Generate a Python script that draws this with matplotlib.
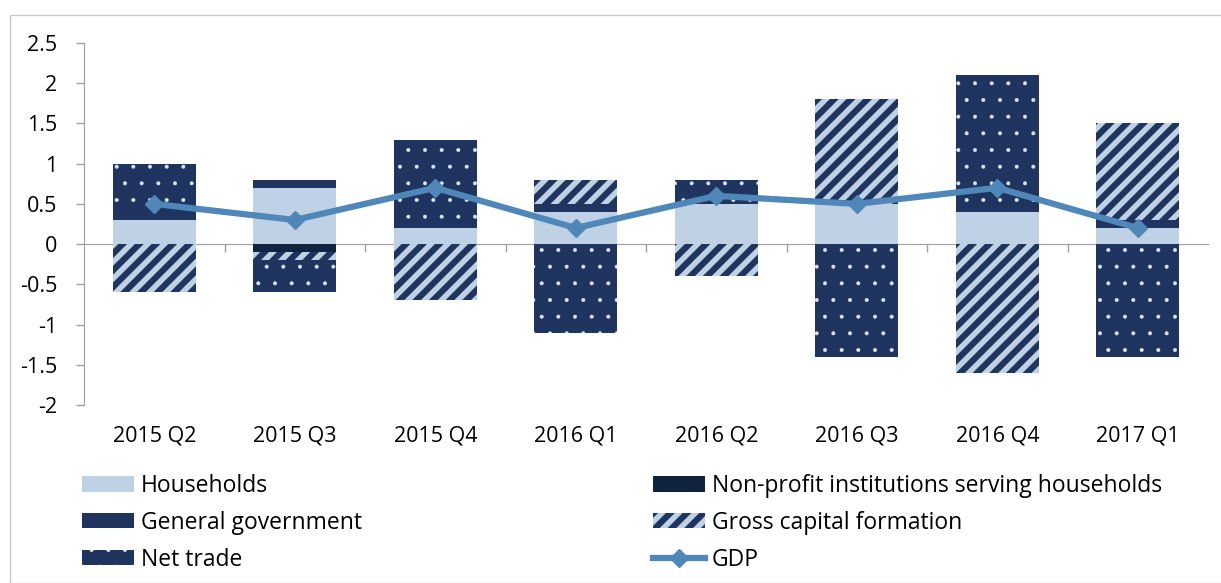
import numpy as np
import matplotlib.pyplot as plt
from matplotlib.patches import Rectangle

quarters = ['2015 Q2', '2015 Q3', '2015 Q4', '2016 Q1', '2016 Q2', '2016 Q3', '2016 Q4', '2017 Q1']
households = [0.3, 0.7, 0.2, 0.4, 0.5, 0.5, 0.4, 0.2]
npish = [0.0, -0.1, 0.0, 0.0, 0.0, 0.0, 0.0, 0.0]
general_gov = [0.2, 0.1, 0.0, 0.1, 0.0, 0.0, 0.0, 0.1]
gross_capital = [-0.6, -0.1, -0.7, 0.3, -0.4, 1.3, -1.6, 1.2]
net_trade = [0.5, -0.4, 1.1, -1.1, 0.3, -1.4, 1.7, -1.4]
gdp = [0.5, 0.3, 0.7, 0.2, 0.6, 0.5, 0.7, 0.2]

light = '#bfd2e5'
navy = '#1f3560'
dark = '#10233f'
line_col = '#4f87b9'

plt.rcParams['font.family'] = ['Open Sans', 'DejaVu Sans']
plt.rcParams['font.size'] = 15.5

fig = plt.figure(figsize=(12.21, 5.83), dpi=100)
ax = fig.add_axes([84 / 1221, 1 - 405 / 583, (1208 - 84) / 1221, (405 - 43) / 583])

x = np.arange(len(quarters))
w = 0.59
pos_base = np.zeros(len(x))
neg_base = np.zeros(len(x))


def set_hlw(patches, lw):
    for p in patches:
        if hasattr(p, 'set_hatch_linewidth'):
            p.set_hatch_linewidth(lw)
        else:
            p._hatch_linewidth = lw


def stack(vals, hatch_lw=None, **kw):
    vals = np.array(vals, dtype=float)
    bottoms = np.where(vals >= 0, pos_base, neg_base)
    bars = ax.bar(x, vals, w, bottom=bottoms, linewidth=0, **kw)
    if hatch_lw is not None:
        set_hlw(bars, hatch_lw)
    pos_base[:] += np.where(vals > 0, vals, 0)
    neg_base[:] += np.where(vals < 0, vals, 0)
    return bars


h_hh = stack(households, color=light, label='Households')
h_np = stack(npish, color=dark, label='Non-profit institutions serving households')
h_gg = stack(general_gov, color=navy, label='General government')
h_gc = stack(gross_capital, hatch_lw=4.5, facecolor=light, edgecolor=navy, hatch='//',
             label='Gross capital formation')
h_nt = stack(net_trade, hatch_lw=0.4, facecolor=navy, edgecolor='#dde6f0', hatch='.',
             label='Net trade')

h_gdp, = ax.plot(x, gdp, color=line_col, lw=4.5, marker='D', ms=9, label='GDP', zorder=5)

ax.set_xlim(-0.5, len(x) - 0.5)
ax.set_ylim(-2, 2.5)
ax.set_yticks(np.arange(-2, 2.51, 0.5))
ax.set_yticklabels(['-2', '-1.5', '-1', '-0.5', '0', '0.5', '1', '1.5', '2', '2.5'])
ax.set_xticks(x)
ax.set_xticklabels(quarters)
ax.tick_params(axis='x', length=0, pad=15)
ax.tick_params(axis='y', length=6, width=1, color='#a0a0a0', pad=13)
for s in ['top', 'right', 'bottom']:
    ax.spines[s].set_visible(False)
ax.spines['left'].set_color('#a0a0a0')

zero = ax.secondary_xaxis(0, transform=ax.transData)
zero.set_xticks(np.arange(0.5, len(x) - 1, 1.0))
zero.set_xticklabels([])
zero.tick_params(length=6, width=1, color='#a0a0a0', direction='out')
zero.spines['bottom'].set_color('#a0a0a0')

leg_kw = dict(loc='upper left', frameon=False, handlelength=2.27, handleheight=0.65,
              handletextpad=0.3, labelspacing=0.56, borderpad=0, borderaxespad=0, fontsize=16.5)
leg1 = fig.legend([h_hh, h_gg, h_nt], ['Households', 'General government', 'Net trade'],
                  bbox_to_anchor=(82 / 1221, 1 - 474 / 583), **leg_kw)
leg2 = fig.legend([h_np, h_gc, h_gdp],
                  ['Non-profit institutions serving households', 'Gross capital formation', 'GDP'],
                  bbox_to_anchor=(653 / 1221, 1 - 474 / 583), **leg_kw)
set_hlw([leg1.get_patches()[2]], 0.4)
set_hlw([leg2.get_patches()[1]], 4.5)

fig.patches.append(Rectangle((10 / 1221, 0), 1, 1 - 15 / 583, transform=fig.transFigure,
                             fill=False, edgecolor='#c8c8c8', lw=1))

fig.savefig('out.png', dpi=100)
